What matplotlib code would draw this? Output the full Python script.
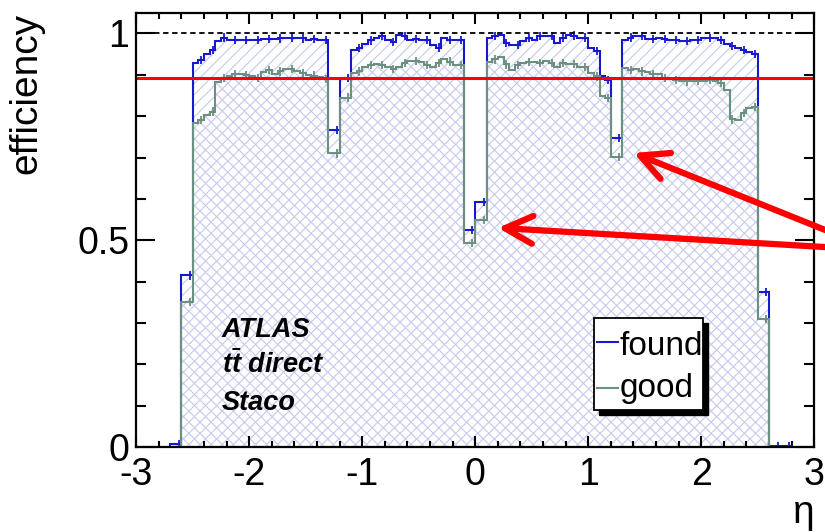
import numpy as np
import matplotlib.pyplot as plt
from matplotlib.patches import Rectangle
from matplotlib.ticker import MultipleLocator

plt.rcParams['font.family'] = ['Liberation Sans', 'DejaVu Sans']
plt.rcParams['mathtext.fontset'] = 'custom'
plt.rcParams['mathtext.it'] = 'Liberation Sans:italic:bold'
plt.rcParams['axes.unicode_minus'] = False
plt.rcParams['hatch.linewidth'] = 0.8

# eta binning of the efficiency histograms
eta_min = -2.7
bin_width = 0.05

found = [0.008, 0.008, 0.415, 0.415,
         0.928, 0.935, 0.950, 0.960, 0.982, 0.990, 0.985, 0.984, 0.983, 0.984, 0.983, 0.985,
         0.987, 0.986, 0.986, 0.988, 0.990, 0.990, 0.989, 0.988, 0.985, 0.986, 0.984, 0.984,
         0.767, 0.767, 0.892, 0.892,
         0.960, 0.965, 0.975, 0.983, 0.990, 0.993, 0.984, 0.979, 0.996, 0.993,
         0.985, 0.987, 0.985, 0.985, 0.971, 0.966, 0.989, 0.985, 0.984, 0.984,
         0.525, 0.525, 0.593, 0.593,
         0.989, 0.993, 0.997, 0.977, 0.973, 0.972, 0.982, 0.989, 0.985, 0.993,
         0.993, 0.993, 0.977, 0.989, 0.997, 0.995, 0.990, 0.990, 0.965, 0.957,
         0.896, 0.888, 0.747, 0.747,
         0.985, 0.990, 0.993, 0.993, 0.987, 0.987, 0.988, 0.987, 0.985, 0.984, 0.981, 0.981,
         0.983, 0.985, 0.989, 0.989, 0.989, 0.985, 0.975, 0.970, 0.965, 0.960, 0.955, 0.950,
         0.375, 0.375, 0.003, 0.003, 0.003, 0.003]

good = [0.0, 0.0, 0.350, 0.350,
        0.783, 0.790, 0.803, 0.811, 0.882, 0.892, 0.896, 0.902, 0.902, 0.900, 0.897, 0.892,
        0.906, 0.912, 0.902, 0.908, 0.914, 0.914, 0.908, 0.904, 0.900, 0.898, 0.895, 0.890,
        0.710, 0.710, 0.845, 0.845,
        0.904, 0.908, 0.918, 0.924, 0.927, 0.924, 0.918, 0.914, 0.920, 0.928,
        0.934, 0.933, 0.930, 0.923, 0.918, 0.928, 0.938, 0.932, 0.924, 0.923,
        0.493, 0.493, 0.549, 0.549,
        0.932, 0.937, 0.942, 0.925, 0.912, 0.924, 0.928, 0.931, 0.930, 0.928,
        0.934, 0.928, 0.920, 0.928, 0.926, 0.926, 0.920, 0.918, 0.904, 0.896,
        0.848, 0.844, 0.702, 0.702,
        0.916, 0.912, 0.914, 0.908, 0.906, 0.902, 0.902, 0.892, 0.890, 0.888, 0.886, 0.884,
        0.884, 0.885, 0.886, 0.888, 0.886, 0.880, 0.864, 0.792, 0.790, 0.807, 0.820, 0.822,
        0.310, 0.310, 0.0, 0.0, 0.0, 0.0]

err = 0.01
plateau_cut = 0.893

found = np.array(found)
good = np.array(good)
edges = eta_min + bin_width * np.arange(len(found) + 1)
centers = 0.5 * (edges[1:] + edges[:-1])

c_found = '#1818d0'
c_good = '#6b9080'
c_hatch = '#c4c9ee'

fig = plt.figure(figsize=(8.25, 5.32), dpi=100)
ax = fig.add_axes([0.1652, 0.1598, 0.8218, 0.8162])

# hatched fills: "/" under found, "\" under good -> cross-hatch where both
ax.stairs(found, edges, fill=True, facecolor='none', edgecolor=c_hatch,
          linewidth=0, hatch='///', zorder=1)
ax.stairs(good, edges, fill=True, facecolor='none', edgecolor=c_hatch,
          linewidth=0, hatch='\\\\\\', zorder=1)

ax.stairs(found, edges, color=c_found, lw=1.5, zorder=3)
ax.stairs(good, edges, color=c_good, lw=1.5, zorder=3.5)
ax.errorbar(centers, found, yerr=err, fmt='none', errorevery=(1, 2),
            ecolor=c_found, elinewidth=1.3, zorder=3)
ax.errorbar(centers[2:-4], good[2:-4], yerr=err, fmt='none', errorevery=(1, 2),
            ecolor=c_good, elinewidth=1.3, zorder=3.5)

ax.axhline(1.0, color='black', lw=1.3, ls=(0, (3, 2)), zorder=4)
ax.axhline(plateau_cut, color='red', lw=2.2, zorder=4)

ax.set_xlim(-3, 3)
ax.set_ylim(0, 1.05)
ax.set_xticks(np.arange(-3, 4))
ax.set_yticks([0, 0.5, 1])
ax.set_yticklabels(['0', '0.5', '1'])
ax.xaxis.set_minor_locator(MultipleLocator(0.2))
ax.yaxis.set_minor_locator(MultipleLocator(0.1))
ax.tick_params(which='both', direction='in', top=True, right=True,
               width=1.5, labelsize=27, colors='black')
ax.tick_params(axis='x', which='major', length=8, pad=7)
ax.tick_params(axis='x', which='minor', length=4.5)
ax.tick_params(axis='y', which='major', length=14, pad=5)
ax.tick_params(axis='y', which='minor', length=7.5)
for s in ax.spines.values():
    s.set_linewidth(1.6)
    s.set_zorder(6)

ax.set_ylabel('efficiency', fontsize=28, loc='top')
ax.yaxis.set_label_coords(-0.136, 1.0)
ax.set_xlabel('η', fontsize=28, loc='right')
ax.xaxis.set_label_coords(1.0, -0.11)

# labels
txt = dict(transform=ax.transAxes, fontsize=19.5, fontweight='bold',
           fontstyle='italic', zorder=7)
ax.text(0.126, 0.254, 'ATLAS', **txt)
ax.text(0.126, 0.170, r'$t\bar{t}$ direct', **txt)
ax.text(0.126, 0.085, 'Staco', **txt)

# legend box with drop shadow
bx, by, bw, bh = 0.675, 0.085, 0.161, 0.212
ax.add_patch(Rectangle((bx + 0.0074, by - 0.0115), bw, bh, transform=ax.transAxes,
                       facecolor='black', edgecolor='black', zorder=8, clip_on=False))
ax.add_patch(Rectangle((bx, by), bw, bh, transform=ax.transAxes,
                       facecolor='white', edgecolor='black', lw=1.3, zorder=9,
                       clip_on=False))
for yl, ytxt, lab, col in [(0.242, 0.212, 'found', c_found),
                           (0.136, 0.116, 'good', c_good)]:
    ax.plot([0.680, 0.710], [yl, yl], color=col, lw=1.5,
            transform=ax.transAxes, zorder=10)
    ax.text(0.713, ytxt, lab, transform=ax.transAxes, fontsize=24,
            va='baseline', zorder=10)

# arrows pointing at the crack regions
arrow = dict(arrowstyle='->,head_length=1.0,head_width=0.5', color='red',
             lw=4.5, mutation_scale=20, shrinkA=0, shrinkB=0)
ax.annotate('', xy=(1.40, 0.711), xycoords='data',
            xytext=(875, 282), textcoords='figure pixels',
            arrowprops=arrow, zorder=11, annotation_clip=False)
ax.annotate('', xy=(0.20, 0.530), xycoords='data',
            xytext=(875, 282), textcoords='figure pixels',
            arrowprops=arrow, zorder=11, annotation_clip=False)

fig.savefig('out.png', dpi=100)
